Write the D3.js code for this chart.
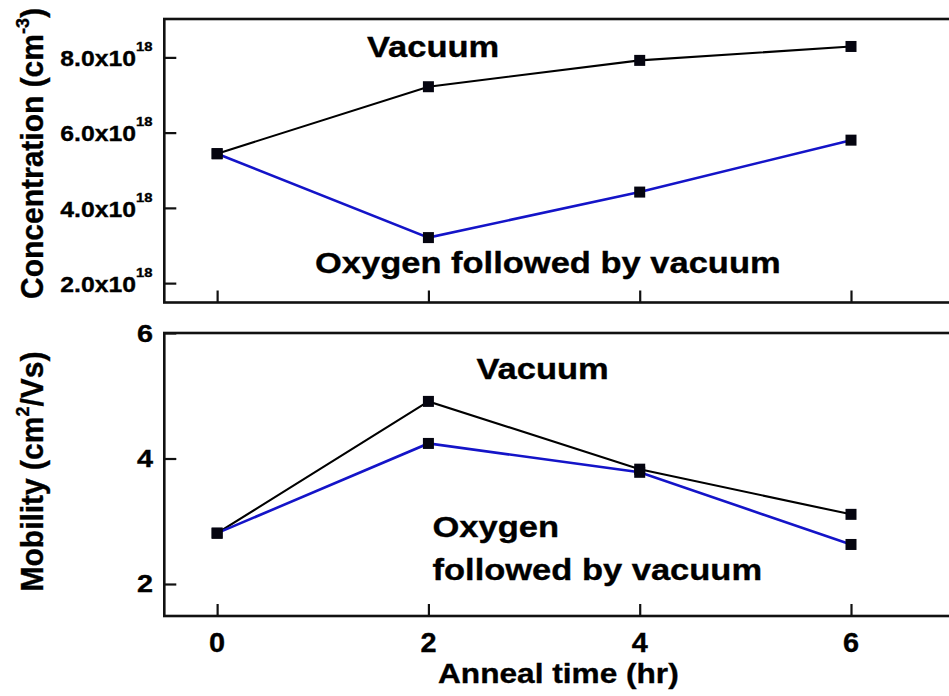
<!DOCTYPE html>
<html>
<head>
<meta charset="utf-8">
<script src="https://cdn.jsdelivr.net/npm/d3@7"></script>
<style>
  html, body { margin: 0; padding: 0; background: #fff; }
  svg { display: block; }
  text { font-family: "Liberation Sans", Arial, Helvetica, sans-serif; font-weight: bold; fill: #000; stroke: #000; stroke-width: 0.35px; }
</style>
</head>
<body>
<svg id="chart" width="949" height="696"></svg>
<script>
// Anneal times (hr)
const annealTimes = [0, 2, 4, 6];

// Carrier concentration (cm^-3)
const concVacuum = [5.44e18, 7.22e18, 7.92e18, 8.29e18];
const concOxygen = [5.44e18, 3.21e18, 4.42e18, 5.80e18];

// Mobility (cm^2/Vs)
const mobVacuum = [2.81, 4.91, 3.83, 3.11];
const mobOxygen = [2.81, 4.24, 3.78, 2.63];

// Tick values and their labels
const xTicks = [0, 2, 4, 6];
const concTicks = [2e18, 4e18, 6e18, 8e18];
const concTickMantissa = ["2.0", "4.0", "6.0", "8.0"];
const concTickExponent = "18";
const mobTicks = [2, 4, 6];
const mobTickLabels = ["2", "4", "6"];

const svg = d3.select("#chart");

const BLACK = "#000";
const BLUE = "#1414c8";

// Shared time axis; the plot area runs past the right edge of the page
const x = d3.scaleLinear().domain([-0.5, 6]).range([164.3, 851]);
const xEnd = 7.5;

const yConc = d3.scaleLinear().domain([1.485e18, 9.02e18]).range([302.5, 19]);
const yMob = d3.scaleLinear().domain([1.49, 6]).range([616, 333]);

// Text drawn with a slight horizontal stretch
function stretchedText(parent, px, py, sx, rotate) {
  return parent.append("text")
    .attr("transform", `translate(${px},${py}) scale(${sx},1)` + (rotate ? ` rotate(${rotate})` : ""));
}

function panel(y, seriesA, seriesB) {
  const g = svg.append("g");
  const [y0, y1] = y.domain();
  // frame
  g.append("rect")
    .attr("x", x(-0.5)).attr("y", y(y1))
    .attr("width", x(xEnd) - x(-0.5)).attr("height", y(y0) - y(y1))
    .attr("fill", "none").attr("stroke", "#111").attr("stroke-width", 2.6);

  // inward ticks along the bottom
  const xa = g.append("g")
    .attr("transform", `translate(0,${y(y0)})`)
    .call(d3.axisBottom(x).tickValues(xTicks).tickSize(-12).tickFormat(""));
  xa.select(".domain").remove();
  xa.selectAll(".tick line").attr("stroke", "#111").attr("stroke-width", 2.2);

  const line = d3.line().x((d, i) => x(annealTimes[i])).y(d => y(d));
  g.append("path").datum(seriesA).attr("d", line)
    .attr("fill", "none").attr("stroke", BLACK).attr("stroke-width", 2.1);
  g.append("path").datum(seriesB).attr("d", line)
    .attr("fill", "none").attr("stroke", BLUE).attr("stroke-width", 2.6);

  const s = 11;
  [seriesA, seriesB].forEach(series => {
    g.selectAll(null).data(series).join("rect")
      .attr("x", (d, i) => x(annealTimes[i]) - s / 2)
      .attr("y", d => y(d) - s / 2)
      .attr("width", s).attr("height", s)
      .attr("fill", "#050510");
  });
  return g;
}

// ---- Concentration panel ----
const gTop = panel(yConc, concVacuum, concOxygen);
const ya1 = gTop.append("g")
  .attr("transform", `translate(${x(-0.5)},0)`)
  .call(d3.axisLeft(yConc).tickValues(concTicks).tickSize(-12).tickFormat(""));
ya1.select(".domain").remove();
ya1.selectAll(".tick line").attr("stroke", "#111").attr("stroke-width", 2.2);

concTicks.forEach((v, i) => {
  const t = stretchedText(gTop, 152.5, yConc(v) + 8.7, 1.1).attr("text-anchor", "end");
  t.append("tspan").attr("font-size", 22.5).text(concTickMantissa[i] + "x10");
  t.append("tspan").attr("font-size", 13.5).attr("dy", -15).text(concTickExponent);
});

const tTitle1 = stretchedText(svg, 43, 153.5, 1.05, -90).attr("text-anchor", "middle").attr("font-size", 30);
tTitle1.append("tspan").text("Concentration (cm");
tTitle1.append("tspan").attr("font-size", 18).attr("dy", -13).text("-3");
tTitle1.append("tspan").attr("dy", 13).text(")");

stretchedText(gTop, 367, 56.7, 1.15).attr("font-size", 30).text("Vacuum");
stretchedText(gTop, 315, 273.3, 1.15).attr("font-size", 30).text("Oxygen followed by vacuum");

// ---- Mobility panel ----
const gBot = panel(yMob, mobVacuum, mobOxygen);
const ya2 = gBot.append("g")
  .attr("transform", `translate(${x(-0.5)},0)`)
  .call(d3.axisLeft(yMob).tickValues(mobTicks).tickSize(-12).tickFormat(""));
ya2.select(".domain").remove();
ya2.selectAll(".tick line").attr("stroke", "#111").attr("stroke-width", 2.2);

mobTicks.forEach((v, i) => {
  stretchedText(gBot, 153, yMob(v) + 8.5, 1.2)
    .attr("text-anchor", "end").attr("font-size", 24).text(mobTickLabels[i]);
});

const tTitle2 = stretchedText(svg, 43, 471.5, 1.05, -90).attr("text-anchor", "middle").attr("font-size", 30);
tTitle2.append("tspan").text("Mobility (cm");
tTitle2.append("tspan").attr("font-size", 18).attr("dy", -13).text("2");
tTitle2.append("tspan").attr("dy", 13).text("/Vs)");

stretchedText(gBot, 476.5, 379.3, 1.15).attr("font-size", 30).text("Vacuum");
stretchedText(gBot, 432.5, 536.5, 1.15).attr("font-size", 30).text("Oxygen");
stretchedText(gBot, 432.5, 580, 1.15).attr("font-size", 30).text("followed by vacuum");

// ---- Time axis labels ----
xTicks.forEach(v => {
  stretchedText(svg, x(v), 652, 1.05).attr("text-anchor", "middle").attr("font-size", 27.5).text(String(v));
});
stretchedText(svg, 438, 683, 1.13).attr("font-size", 28).text("Anneal time (hr)");
</script>
</body>
</html>
